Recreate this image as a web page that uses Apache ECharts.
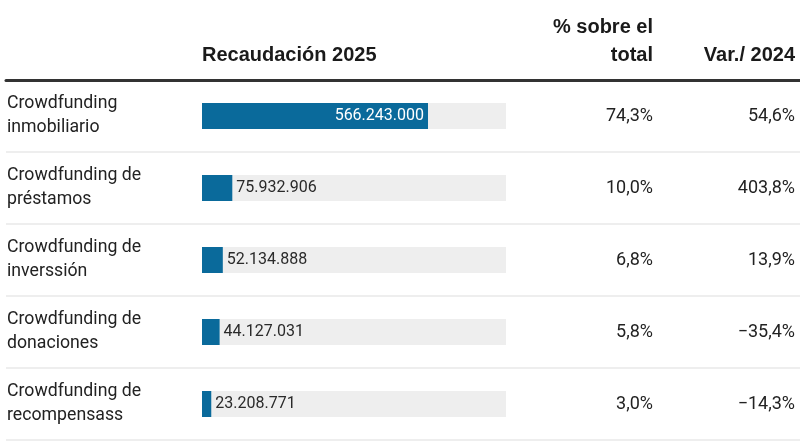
<!DOCTYPE html>
<html>
<head>
<meta charset="utf-8">
<script src="https://cdn.jsdelivr.net/npm/echarts@6/dist/echarts.min.js"></script>
<style>
  html, body { margin: 0; padding: 0; background: #fff; }
  #chart { width: 800px; height: 445px; }
</style>
</head>
<body>
<div id="chart"></div>
<script>
const categorias = [
  'Crowdfunding\ninmobiliario',
  'Crowdfunding de\npréstamos',
  'Crowdfunding de\ninverssión',
  'Crowdfunding de\ndonaciones',
  'Crowdfunding de\nrecompensass'
];
const recaudacion = [566243000, 75932906, 52134888, 44127031, 23208771];
const pctTotal = [74.3, 10.0, 6.8, 5.8, 3.0];
const var2024 = [54.6, 403.8, 13.9, -35.4, -14.3];

const total = recaudacion.reduce((a, b) => a + b, 0);

const fmtMiles = v => String(v).replace(/\B(?=(\d{3})+(?!\d))/g, '.');
const fmtPct = v => (v < 0 ? '\u2212' : '') + Math.abs(v).toFixed(1).replace('.', ',') + '%';

const BODY = 'Roboto, "Liberation Sans", sans-serif';
const HEAD = '"Liberation Sans", Arial, sans-serif';

const chart = echarts.init(document.getElementById('chart'), null, {
  width: 800,
  height: 445,
  renderer: 'canvas'
});

var option = {
  backgroundColor: '#ffffff',
  animation: false,
  graphic: [
    { type: 'text', style: { text: 'Recaudación 2025', x: 202, y: 55, textVerticalAlign: 'middle', font: 'bold 20px ' + HEAD, fill: '#1a1a1a' } },
    { type: 'text', style: { text: '% sobre el', x: 653, y: 27, textAlign: 'right', textVerticalAlign: 'middle', font: 'bold 20px ' + HEAD, fill: '#1a1a1a' } },
    { type: 'text', style: { text: 'total', x: 653, y: 55, textAlign: 'right', textVerticalAlign: 'middle', font: 'bold 20px ' + HEAD, fill: '#1a1a1a' } },
    { type: 'text', style: { text: 'Var./ 2024', x: 795, y: 55, textAlign: 'right', textVerticalAlign: 'middle', font: 'bold 20px ' + HEAD, fill: '#1a1a1a' } }
  ],
  grid: [
    // barras
    { left: 202, right: 294, top: 80, bottom: 5 },
    // separadores a todo lo ancho
    { left: 6, right: 0, top: 80, bottom: 5 }
  ],
  xAxis: [
    { gridIndex: 0, type: 'value', min: 0, max: total, show: false },
    {
      gridIndex: 1, type: 'value', position: 'top',
      axisLine: { show: true, onZero: false, lineStyle: { color: '#333333', width: 3 } },
      axisTick: { show: false }, axisLabel: { show: false }, splitLine: { show: false }
    }
  ],
  yAxis: [
    {
      gridIndex: 0, type: 'category', data: categorias, inverse: true,
      axisLine: { show: false }, axisTick: { show: false }, splitLine: { show: false },
      axisLabel: {
        align: 'left', margin: 195, color: '#222222',
        fontFamily: BODY, fontSize: 17.7, lineHeight: 24
      }
    },
    {
      gridIndex: 0, type: 'category', data: pctTotal.map(fmtPct), inverse: true, position: 'right',
      axisLine: { show: false }, axisTick: { show: false }, splitLine: { show: false },
      axisLabel: { align: 'right', margin: 147, color: '#222222', fontFamily: BODY, fontSize: 18 }
    },
    {
      gridIndex: 0, type: 'category', data: var2024.map(fmtPct), inverse: true, position: 'right',
      axisLine: { show: false }, axisTick: { show: false }, splitLine: { show: false },
      axisLabel: { align: 'right', margin: 289, color: '#222222', fontFamily: BODY, fontSize: 18 }
    },
    {
      gridIndex: 1, type: 'category', data: categorias, inverse: true,
      axisLine: { show: false }, axisTick: { show: false }, axisLabel: { show: false },
      splitLine: { show: true, lineStyle: { color: '#e8e8e8', width: 1.5 } }
    }
  ],
  series: [
    {
      type: 'bar',
      xAxisIndex: 0,
      yAxisIndex: 0,
      barWidth: 26,
      showBackground: true,
      backgroundStyle: { color: '#eeeeee' },
      itemStyle: { color: '#0a6a9b' },
      data: recaudacion.map((v, i) => ({
        value: v,
        label: i === 0
          ? { position: 'insideRight', color: '#ffffff', distance: 4 }
          : { position: 'right', color: '#2a2a2a', distance: 4 }
      })),
      label: {
        show: true,
        fontFamily: BODY,
        fontSize: 16,
        formatter: p => fmtMiles(p.value)
      }
    }
  ]
};

chart.setOption(option);
</script>
</body>
</html>
